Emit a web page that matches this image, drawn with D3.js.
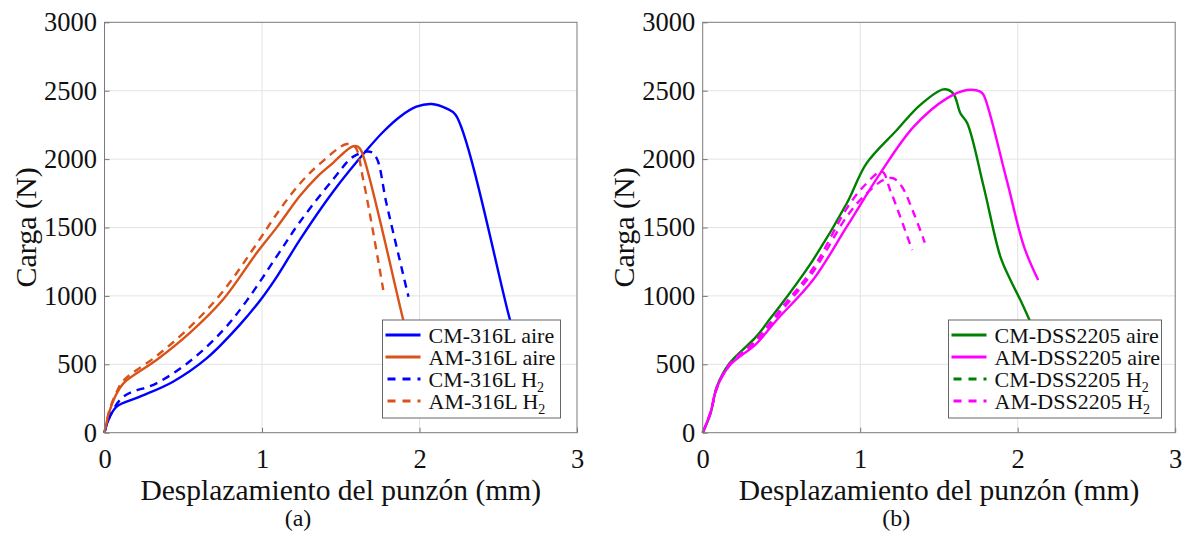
<!DOCTYPE html>
<html>
<head>
<meta charset="utf-8">
<script src="https://cdn.jsdelivr.net/npm/d3@7.9.0/dist/d3.min.js"></script>
<style>
  body { margin: 0; background: #fff; }
  svg { display: block; }
  text { font-family: "Liberation Serif", "Times New Roman", serif; fill: #111; }
</style>
</head>
<body>
<svg id="chart" width="1182" height="533"></svg>
<script>
// ---- data (displacement mm, load N) ----
const cm316Aire = [[0,0],[0.02,80],[0.077,190],[0.225,263],[0.435,373],[0.65,545],[0.86,790],[1.0,985],[1.1,1150],[1.24,1410],[1.45,1760],[1.665,2066],[1.77,2200],[1.876,2310],[1.98,2383],[2.077,2403],[2.17,2371],[2.23,2322],[2.575,824],[2.62,660]];
const am316Aire = [[0,0],[0.03,150],[0.067,263],[0.12,361],[0.33,531],[0.54,728],[0.75,970],[0.966,1313],[1.1,1510],[1.24,1730],[1.35,1870],[1.453,1975],[1.538,2065],[1.58,2095],[1.61,2090],[1.633,2054],[1.897,824],[1.93,680]];
const cm316H2 = [[0,0],[0.03,110],[0.12,263],[0.33,361],[0.54,520],[0.754,750],[0.90,960],[1.10,1300],[1.24,1540],[1.45,1850],[1.58,2018],[1.686,2054],[1.728,2006],[1.79,1677],[1.93,994]];
const am316H2 = [[0,0],[0.03,160],[0.07,280],[0.12,380],[0.33,560],[0.54,770],[0.75,1030],[0.966,1380],[1.1,1610],[1.24,1820],[1.37,1969],[1.538,2110],[1.59,2090],[1.643,1848],[1.77,1043]];

const cmDssAire = [[0,0],[0.05,142],[0.09,336],[0.17,507],[0.34,702],[0.43,836],[0.51,955],[0.70,1262],[0.915,1677],[1.04,1969],[1.233,2213],[1.38,2395],[1.53,2510],[1.59,2481],[1.636,2335],[1.68,2262],[1.784,1798],[1.89,1287],[1.954,1116],[2.017,970],[2.07,836],[2.12,700]];
const amDssAire = [[0,0],[0.05,150],[0.09,330],[0.17,490],[0.34,650],[0.47,824],[0.70,1116],[0.915,1506],[1.127,1896],[1.34,2237],[1.55,2444],[1.68,2505],[1.763,2493],[1.784,2468],[1.93,1848],[2.04,1360],[2.13,1116]];
const cmDssH2 = [[0,0],[0.05,150],[0.09,330],[0.17,500],[0.34,680],[0.51,925],[0.70,1200],[0.915,1640],[1.02,1798],[1.138,1908],[1.19,1774],[1.254,1579],[1.33,1335]];
const amDssH2 = [[0,0],[0.05,145],[0.09,325],[0.17,495],[0.34,668],[0.51,905],[0.70,1175],[0.915,1580],[1.02,1725],[1.148,1848],[1.21,1860],[1.265,1798],[1.34,1604],[1.41,1390]];

const xTicks = [0, 1, 2, 3];
const yTicks = [0, 500, 1000, 1500, 2000, 2500, 3000];

const panels = [
  { left: 104.5, tag: '(a)', legendX: 382.5, legendW: 178,
    series: [
      { name: 'CM-316L aire', sub: '', data: cm316Aire, color: '#0000ff', dash: null },
      { name: 'AM-316L aire', sub: '', data: am316Aire, color: '#d95319', dash: null },
      { name: 'CM-316L H', sub: '2', data: cm316H2, color: '#0000ff', dash: '8,6' },
      { name: 'AM-316L H', sub: '2', data: am316H2, color: '#d95319', dash: '8,6' }
    ] },
  { left: 702.7, tag: '(b)', legendX: 948.5, legendW: 213,
    series: [
      { name: 'CM-DSS2205 aire', sub: '', data: cmDssAire, color: '#008000', dash: null },
      { name: 'AM-DSS2205 aire', sub: '', data: amDssAire, color: '#ff00ff', dash: null },
      { name: 'CM-DSS2205 H', sub: '2', data: cmDssH2, color: '#008000', lineColor: '#ff00ff', dash: '8,6' },
      { name: 'AM-DSS2205 H', sub: '2', data: amDssH2, color: '#ff00ff', dash: '8,6' }
    ] }
];

const svg = d3.select('#chart');
const plotTop = 22.3, plotBottom = 432.7, plotW = 472.5;

panels.forEach((p) => {
  const x = d3.scaleLinear().domain([0, 3]).range([p.left, p.left + plotW]);
  const y = d3.scaleLinear().domain([0, 3000]).range([plotBottom, plotTop]);
  const g = svg.append('g');

  // grid
  g.selectAll('.gx').data(xTicks.slice(1, -1)).enter().append('line')
    .attr('x1', (d) => x(d)).attr('x2', (d) => x(d))
    .attr('y1', plotTop).attr('y2', plotBottom)
    .attr('stroke', '#e3e3e3').attr('stroke-width', 1);
  g.selectAll('.gy').data(yTicks.slice(1, -1)).enter().append('line')
    .attr('x1', p.left).attr('x2', p.left + plotW)
    .attr('y1', (d) => y(d)).attr('y2', (d) => y(d))
    .attr('stroke', '#e3e3e3').attr('stroke-width', 1);

  // curves
  const line = d3.line().x((d) => x(d[0])).y((d) => y(d[1])).curve(d3.curveCatmullRom.alpha(0.5));
  p.series.forEach((s) => {
    g.append('path')
      .attr('d', line(s.data))
      .attr('fill', 'none')
      .attr('stroke', s.lineColor || s.color)
      .attr('stroke-width', 2.4)
      .attr('stroke-dasharray', s.dash);
  });

  // axes box + ticks
  const xAxis = d3.axisBottom(x).tickValues(xTicks).tickFormat(d3.format('d')).tickSize(-5).tickPadding(16);
  const yAxis = d3.axisLeft(y).tickValues(yTicks).tickFormat(d3.format('d')).tickSize(-5).tickPadding(7.5);
  const ax = g.append('g').attr('transform', `translate(0,${plotBottom})`).call(xAxis);
  const ay = g.append('g').attr('transform', `translate(${p.left},0)`).call(yAxis);
  [ax, ay].forEach((a) => {
    a.select('.domain').remove();
    a.selectAll('line').attr('stroke', '#777');
    a.selectAll('text').attr('font-size', 26.5).attr('fill', '#111');
  });
  ax.selectAll('text').attr('dy', '0.72em');
  g.append('rect')
    .attr('x', p.left).attr('y', plotTop).attr('width', plotW).attr('height', plotBottom - plotTop)
    .attr('fill', 'none').attr('stroke', '#7a7a7a').attr('stroke-width', 1);

  // labels
  g.append('text')
    .attr('transform', `translate(${p.left - 68.5},${(plotTop + plotBottom) / 2}) rotate(-90)`)
    .attr('text-anchor', 'middle').attr('font-size', 30).text('Carga (N)');
  g.append('text')
    .attr('x', p.left + plotW / 2).attr('y', 500)
    .attr('text-anchor', 'middle').attr('font-size', 29.5).text('Desplazamiento del punzón (mm)');
  g.append('text')
    .attr('x', p.left + 193.5).attr('y', 526)
    .attr('text-anchor', 'middle').attr('font-size', 24).text(p.tag);

  // legend
  const lg = g.append('g').attr('transform', `translate(${p.legendX},320)`);
  lg.append('rect').attr('width', p.legendW).attr('height', 98)
    .attr('fill', '#fff').attr('stroke', '#666').attr('stroke-width', 1);
  p.series.forEach((s, i) => {
    const cy = 15 + i * 22;
    lg.append('line').attr('x1', 3).attr('x2', 38).attr('y1', cy).attr('y2', cy)
      .attr('stroke', s.color).attr('stroke-width', 3.2)
      .attr('stroke-dasharray', s.dash ? '8,7' : null)
      .attr('stroke-dashoffset', s.dash ? -2 : 0);
    const t = lg.append('text').attr('x', 46).attr('y', cy + 7.5).attr('font-size', 22);
    t.append('tspan').text(s.name);
    if (s.sub) t.append('tspan').attr('font-size', 14).attr('dy', 5).text(s.sub);
  });
});
</script>
</body>
</html>
